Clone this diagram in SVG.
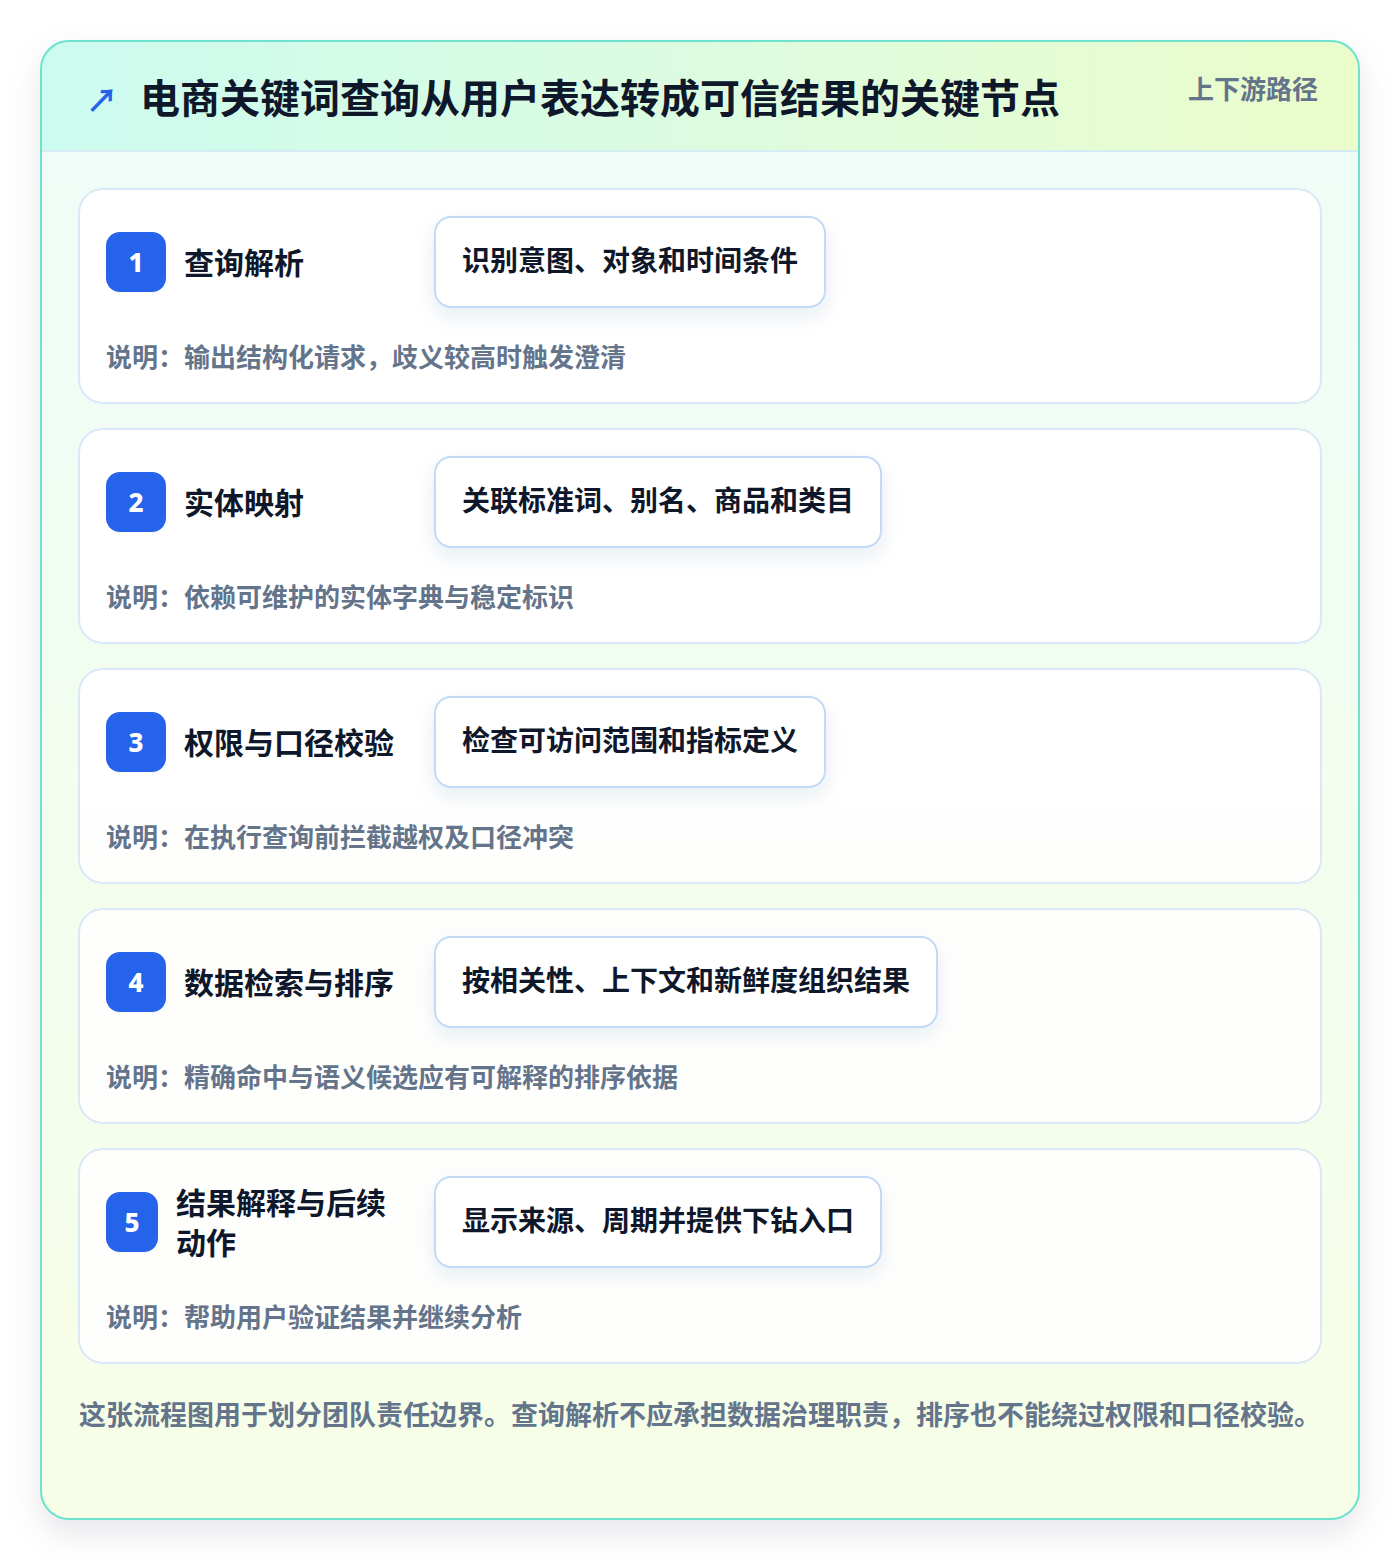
<svg xmlns="http://www.w3.org/2000/svg" width="1400" height="1560" viewBox="0 0 1400 1560">
<defs>
<linearGradient id="hdr" x1="0" y1="0" x2="1" y2="0">
<stop offset="0" stop-color="#ccfbef"/>
<stop offset="0.5" stop-color="#dcfce0"/>
<stop offset="1" stop-color="#ecfccb"/>
</linearGradient>
<linearGradient id="body" x1="0" y1="0" x2="0" y2="1">
<stop offset="0" stop-color="#effdf9"/>
<stop offset="1" stop-color="#f7fee7"/>
</linearGradient>
<filter id="outerShadow" x="-10%" y="-10%" width="120%" height="120%">
<feDropShadow dx="0" dy="14" stdDeviation="16" flood-color="#0f172a" flood-opacity="0.10"/>
</filter>
<filter id="boxShadow" x="-20%" y="-40%" width="140%" height="190%">
<feDropShadow dx="0" dy="8" stdDeviation="9" flood-color="#1e3a8a" flood-opacity="0.09"/>
</filter>
<clipPath id="outerClip"><rect x="41" y="41" width="1318" height="1478" rx="28"/></clipPath>
</defs>
<style>
text{font-family:"Noto Sans CJK SC","Noto Sans",sans-serif;font-weight:700}
.card{fill:#ffffff;fill-opacity:0.88;stroke:#dbe8f6;stroke-width:2}
.badge{fill:#2563eb}
.num{fill:#ffffff;font-size:26px;font-family:"Noto Sans","DejaVu Sans",sans-serif;font-weight:800}
.ttl{fill:#0f172a;font-size:30px}
.box{fill:#ffffff;stroke:#c3daf6;stroke-width:2}
.boxt{fill:#0f172a;font-size:28px}
.desc{fill:#64748b;font-size:26px}
</style>
<rect x="41" y="41" width="1318" height="1478" rx="28" fill="url(#body)" filter="url(#outerShadow)"/>
<g clip-path="url(#outerClip)">
<rect x="41" y="41" width="1318" height="110" fill="url(#hdr)"/>
<line x1="41" y1="151" x2="1359" y2="151" stroke="#d6ecf4" stroke-width="2"/>
</g>
<rect x="41" y="41" width="1318" height="1478" rx="28" fill="none" stroke="#6ee2cf" stroke-width="2"/>
<g id="header">
<text x="86" y="98" dominant-baseline="central" font-size="32" fill="#2563eb" font-family="DejaVu Sans,sans-serif" font-weight="700">↗</text>
<text x="140" y="96" dominant-baseline="central" font-size="40" fill="#0f172a">电商关键词查询从用户表达转成可信结果的关键节点</text>
<text x="1318" y="87" dominant-baseline="central" text-anchor="end" font-size="26" fill="#64748b">上下游路径</text>
</g>
<g id="step1">
<rect class="card" x="79" y="189" width="1242" height="214" rx="24"/>
<rect class="badge" x="106" y="232" width="60" height="60" rx="14"/>
<text class="num" x="136" y="262" text-anchor="middle" dominant-baseline="central">1</text>
<text class="ttl" x="184" y="261" dominant-baseline="central">查询解析</text>
<rect class="box" x="435" y="217" width="390" height="90" rx="16" filter="url(#boxShadow)"/>
<text class="boxt" x="462" y="259" dominant-baseline="central">识别意图、对象和时间条件</text>
<text class="desc" x="106" y="355" dominant-baseline="central">说明：输出结构化请求，歧义较高时触发澄清</text>
</g>
<g id="step2">
<rect class="card" x="79" y="429" width="1242" height="214" rx="24"/>
<rect class="badge" x="106" y="472" width="60" height="60" rx="14"/>
<text class="num" x="136" y="502" text-anchor="middle" dominant-baseline="central">2</text>
<text class="ttl" x="184" y="501" dominant-baseline="central">实体映射</text>
<rect class="box" x="435" y="457" width="446" height="90" rx="16" filter="url(#boxShadow)"/>
<text class="boxt" x="462" y="499" dominant-baseline="central">关联标准词、别名、商品和类目</text>
<text class="desc" x="106" y="595" dominant-baseline="central">说明：依赖可维护的实体字典与稳定标识</text>
</g>
<g id="step3">
<rect class="card" x="79" y="669" width="1242" height="214" rx="24"/>
<rect class="badge" x="106" y="712" width="60" height="60" rx="14"/>
<text class="num" x="136" y="742" text-anchor="middle" dominant-baseline="central">3</text>
<text class="ttl" x="184" y="741" dominant-baseline="central">权限与口径校验</text>
<rect class="box" x="435" y="697" width="390" height="90" rx="16" filter="url(#boxShadow)"/>
<text class="boxt" x="462" y="739" dominant-baseline="central">检查可访问范围和指标定义</text>
<text class="desc" x="106" y="835" dominant-baseline="central">说明：在执行查询前拦截越权及口径冲突</text>
</g>
<g id="step4">
<rect class="card" x="79" y="909" width="1242" height="214" rx="24"/>
<rect class="badge" x="106" y="952" width="60" height="60" rx="14"/>
<text class="num" x="136" y="982" text-anchor="middle" dominant-baseline="central">4</text>
<text class="ttl" x="184" y="981" dominant-baseline="central">数据检索与排序</text>
<rect class="box" x="435" y="937" width="502" height="90" rx="16" filter="url(#boxShadow)"/>
<text class="boxt" x="462" y="979" dominant-baseline="central">按相关性、上下文和新鲜度组织结果</text>
<text class="desc" x="106" y="1075" dominant-baseline="central">说明：精确命中与语义候选应有可解释的排序依据</text>
</g>
<g id="step5">
<rect class="card" x="79" y="1149" width="1242" height="214" rx="24"/>
<rect class="badge" x="106" y="1192" width="52" height="60" rx="14"/>
<text class="num" x="132" y="1222" text-anchor="middle" dominant-baseline="central">5</text>
<text class="ttl" x="176" y="1201" dominant-baseline="central">结果解释与后续</text>
<text class="ttl" x="176" y="1241" dominant-baseline="central">动作</text>
<rect class="box" x="435" y="1177" width="446" height="90" rx="16" filter="url(#boxShadow)"/>
<text class="boxt" x="462" y="1219" dominant-baseline="central">显示来源、周期并提供下钻入口</text>
<text class="desc" x="106" y="1315" dominant-baseline="central">说明：帮助用户验证结果并继续分析</text>
</g>
<g id="connectors"></g>
<g id="footer">
<text x="79" y="1413" dominant-baseline="central" font-size="27" fill="#64748b">这张流程图用于划分团队责任边界。查询解析不应承担数据治理职责，排序也不能绕过权限和口径校验。</text>
</g>
</svg>
